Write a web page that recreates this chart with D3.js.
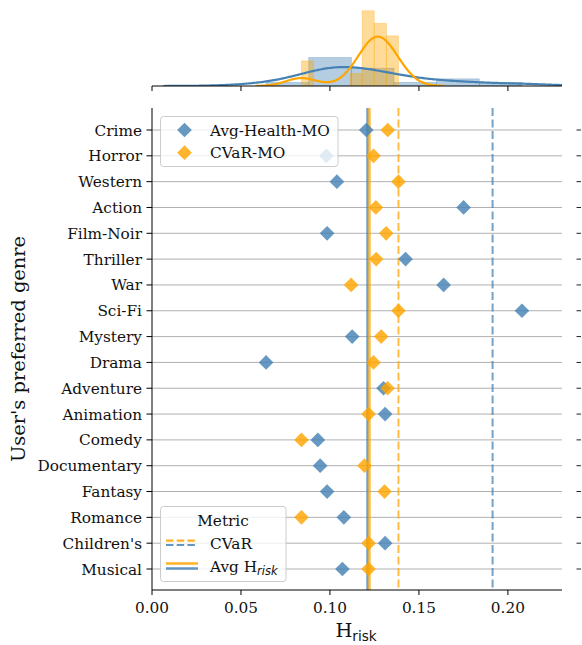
<!DOCTYPE html>
<html>
<head>
<meta charset="utf-8">
<script src="https://cdn.jsdelivr.net/npm/d3@7"></script>
<style>
  body { margin: 0; background: #fff; }
  svg { display: block; }
</style>
</head>
<body>
<svg id="chart" width="582" height="645"></svg>
<script>
// Genres, top to bottom
const genres = ["Crime", "Horror", "Western", "Action", "Film-Noir", "Thriller", "War", "Sci-Fi",
  "Mystery", "Drama", "Adventure", "Animation", "Comedy", "Documentary", "Fantasy", "Romance",
  "Children's", "Musical"];

// H_risk per preferred genre
const avgHealthMO = [0.1204, 0.0980, 0.1039, 0.1751, 0.0984, 0.1425, 0.1639, 0.2079, 0.1125,
  0.0641, 0.1301, 0.1310, 0.0932, 0.0945, 0.0984, 0.1078, 0.1310, 0.1070];
const cvarMO = [0.1325, 0.1245, 0.1385, 0.1258, 0.1316, 0.1260, 0.1119, 0.1385, 0.1288,
  0.1245, 0.1324, 0.1217, 0.0840, 0.1194, 0.1307, 0.0840, 0.1217, 0.1217];

// Reference lines: [Avg-Health-MO, CVaR-MO]
const avgHrisk = [0.1211, 0.1222];
const cvarHrisk = [0.1914, 0.1385];

const seriesNames = ["Avg-Health-MO", "CVaR-MO"];
const seriesBins = [6, 8];
const xTicks = [0, 0.05, 0.10, 0.15, 0.20];
const xMax = 0.2304;

const colors = ["#4682b4", "#ffa500"];
const serif = "'DejaVu Serif', serif";
const sans = "'DejaVu Sans', sans-serif";

const svg = d3.select("#chart");

// Scales
const x = d3.scaleLinear().domain([0, xMax]).range([152, 562]);
const y = d3.scalePoint().domain(genres).range([130, 569]);
const plotTop = 108, plotBottom = 590;

// ---------- Marginal distribution panel ----------
const series = [avgHealthMO, cvarMO];

function histogram(values, nb) {
  const [lo, hi] = d3.extent(values);
  const w = (hi - lo) / nb;
  const counts = new Array(nb).fill(0);
  values.forEach(v => {
    let i = Math.floor((v - lo) / w);
    if (i >= nb) i = nb - 1;
    counts[i]++;
  });
  return counts.map((c, i) => ({ x0: lo + i * w, x1: lo + (i + 1) * w, d: c / (values.length * w) }));
}

function kde(values) {
  const n = values.length;
  const sd = d3.deviation(values);
  const bw = sd * Math.pow(n, -0.2);
  const [lo, hi] = d3.extent(values);
  const a = lo - 3 * bw, b = hi + 3 * bw;
  const pts = [];
  for (let k = 0; k <= 300; k++) {
    const t = a + (b - a) * k / 300;
    let s = 0;
    values.forEach(v => { const z = (t - v) / bw; s += Math.exp(-0.5 * z * z); });
    pts.push([t, s / (n * bw * Math.sqrt(2 * Math.PI))]);
  }
  return pts;
}

const hists = series.map((s, i) => histogram(s, seriesBins[i]));
const kdes = series.map(s => kde(s));
const maxD = d3.max(hists.flat(), d => d.d);
const yTop = d3.scaleLinear().domain([0, maxD * 1.05]).range([86, 7]);

svg.append("clipPath").attr("id", "topClip")
  .append("rect").attr("x", 152).attr("y", 0).attr("width", 410).attr("height", 86);

const margin = svg.append("g").attr("clip-path", "url(#topClip)");
hists.forEach((h, i) => {
  margin.append("g").selectAll("rect").data(h).join("rect")
    .attr("x", d => x(d.x0))
    .attr("width", d => x(d.x1) - x(d.x0))
    .attr("y", d => yTop(d.d))
    .attr("height", d => yTop(0) - yTop(d.d))
    .attr("fill", colors[i]).attr("fill-opacity", 0.4)
    .attr("stroke", colors[i]).attr("stroke-opacity", 0.35).attr("stroke-width", 0.8);
});
const line = d3.line().x(d => x(d[0])).y(d => yTop(d[1])).curve(d3.curveBasis);
kdes.forEach((k, i) => {
  margin.append("path").datum(k).attr("d", line)
    .attr("fill", "none").attr("stroke", colors[i]).attr("stroke-width", 2.2);
});

// marginal baseline + ticks
svg.append("line").attr("x1", 152).attr("x2", 562).attr("y1", 86).attr("y2", 86)
  .attr("stroke", "#000").attr("stroke-width", 1);
svg.append("g").selectAll("line").data(xTicks).join("line")
  .attr("x1", d => x(d)).attr("x2", d => x(d)).attr("y1", 86).attr("y2", 91)
  .attr("stroke", "#000").attr("stroke-width", 1);

// ---------- Main panel ----------
// horizontal grid per genre
svg.append("g").selectAll("line").data(genres).join("line")
  .attr("x1", 152).attr("x2", 562)
  .attr("y1", d => y(d)).attr("y2", d => y(d))
  .attr("stroke", "#b0b0b0").attr("stroke-width", 1);

// reference lines
const vlines = svg.append("g");
[0, 1].forEach(i => {
  vlines.append("line")
    .attr("x1", x(cvarHrisk[i])).attr("x2", x(cvarHrisk[i]))
    .attr("y1", plotTop).attr("y2", plotBottom)
    .attr("stroke", colors[i]).attr("stroke-opacity", 0.75).attr("stroke-width", 2)
    .attr("stroke-dasharray", "8,3.5");
});
[0, 1].forEach(i => {
  vlines.append("line")
    .attr("x1", x(avgHrisk[i])).attr("x2", x(avgHrisk[i]))
    .attr("y1", plotTop).attr("y2", plotBottom)
    .attr("stroke", colors[i]).attr("stroke-opacity", 0.75).attr("stroke-width", 2.5);
});

// diamond markers
const diamond = d3.symbol().type(d3.symbolSquare).size(108);
series.forEach((s, i) => {
  svg.append("g").selectAll("path").data(s).join("path")
    .attr("d", diamond)
    .attr("transform", (d, j) => `translate(${x(d)},${y(genres[j])}) rotate(45)`)
    .attr("fill", colors[i]).attr("fill-opacity", 0.82);
});

// axes spines
svg.append("line").attr("x1", 152).attr("x2", 152).attr("y1", plotTop).attr("y2", plotBottom)
  .attr("stroke", "#000").attr("stroke-width", 1);
svg.append("line").attr("x1", 152).attr("x2", 562).attr("y1", plotBottom).attr("y2", plotBottom)
  .attr("stroke", "#000").attr("stroke-width", 1);

// y ticks and labels
const yAxis = svg.append("g");
yAxis.selectAll("line").data(genres).join("line")
  .attr("x1", 146.5).attr("x2", 152).attr("y1", d => y(d)).attr("y2", d => y(d))
  .attr("stroke", "#000");
yAxis.selectAll("text").data(genres).join("text")
  .attr("x", 142).attr("y", d => y(d)).attr("dy", "0.36em")
  .attr("text-anchor", "end").attr("font-family", serif).attr("font-size", 15.3)
  .attr("fill", "#111").text(d => d);

// right-side tick marks
svg.append("g").selectAll("line").data(genres).join("line")
  .attr("x1", 576.5).attr("x2", 581).attr("y1", d => y(d)).attr("y2", d => y(d))
  .attr("stroke", "#222");

// x ticks and labels
const xAxis = svg.append("g");
xAxis.selectAll("line").data(xTicks).join("line")
  .attr("x1", d => x(d)).attr("x2", d => x(d)).attr("y1", plotBottom).attr("y2", plotBottom + 5)
  .attr("stroke", "#000");
xAxis.selectAll("text").data(xTicks).join("text")
  .attr("x", d => x(d)).attr("y", 613)
  .attr("text-anchor", "middle").attr("font-family", serif).attr("font-size", 15.3)
  .attr("fill", "#111").text(d => d3.format(".2f")(d));

// axis titles
const xl = svg.append("text").attr("x", 356).attr("y", 637)
  .attr("text-anchor", "middle").attr("font-family", serif).attr("font-size", 19.4).attr("fill", "#111");
xl.append("tspan").text("H");
xl.append("tspan").attr("font-family", sans).attr("font-size", 13.6).attr("dy", 4).text("risk");

svg.append("text")
  .attr("transform", "translate(25,349) rotate(-90)")
  .attr("text-anchor", "middle").attr("font-family", serif).attr("font-size", 19.4)
  .attr("fill", "#111").text("User's preferred genre");

// ---------- Legends ----------
const leg1 = svg.append("g");
leg1.append("rect").attr("x", 160.5).attr("y", 116.5).attr("width", 177.5).attr("height", 50)
  .attr("rx", 3).attr("fill", "#fff").attr("fill-opacity", 0.8)
  .attr("stroke", "#cccccc").attr("stroke-width", 1);
seriesNames.forEach((name, i) => {
  const yy = 130 + i * 22.7;
  leg1.append("path").attr("d", diamond)
    .attr("transform", `translate(184.5,${yy}) rotate(45)`)
    .attr("fill", colors[i]).attr("fill-opacity", 0.82);
  leg1.append("text").attr("x", 210).attr("y", yy).attr("dy", "0.36em")
    .attr("font-family", serif).attr("font-size", 15.3).attr("fill", "#111").text(name);
});

const leg2 = svg.append("g");
leg2.append("rect").attr("x", 160.5).attr("y", 506.5).attr("width", 125.5).attr("height", 75)
  .attr("rx", 3).attr("fill", "#fff").attr("fill-opacity", 0.8)
  .attr("stroke", "#cccccc").attr("stroke-width", 1);
leg2.append("text").attr("x", 223).attr("y", 520).attr("dy", "0.36em").attr("text-anchor", "middle")
  .attr("font-family", serif).attr("font-size", 15.3).attr("fill", "#111").text("Metric");
// handles: orange above blue
[1, 0].forEach((ci, k) => {
  leg2.append("line").attr("x1", 166).attr("x2", 198)
    .attr("y1", 540.7 + k * 4.3).attr("y2", 540.7 + k * 4.3)
    .attr("stroke", colors[ci]).attr("stroke-opacity", 0.85).attr("stroke-width", 2.2)
    .attr("stroke-dasharray", "7.5,3.2");
  leg2.append("line").attr("x1", 166).attr("x2", 198)
    .attr("y1", 563.5 + k * 5).attr("y2", 563.5 + k * 5)
    .attr("stroke", colors[ci]).attr("stroke-opacity", 0.85).attr("stroke-width", 2.5);
});
leg2.append("text").attr("x", 210).attr("y", 543).attr("dy", "0.36em")
  .attr("font-family", serif).attr("font-size", 15.3).attr("fill", "#111").text("CVaR");
const t2 = leg2.append("text").attr("x", 210).attr("y", 566).attr("dy", "0.36em")
  .attr("font-family", serif).attr("font-size", 15.3).attr("fill", "#111");
t2.append("tspan").text("Avg H");
t2.append("tspan").attr("font-family", sans).attr("font-style", "italic")
  .attr("font-size", 11.5).attr("dy", 3).text("risk");
</script>
</body>
</html>
